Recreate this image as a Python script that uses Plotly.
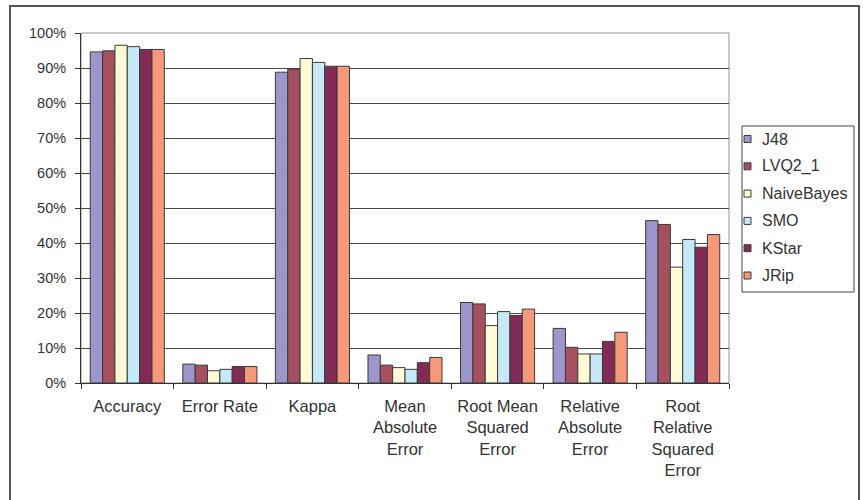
import plotly.graph_objects as go

# Evaluation metrics (percent) for each classifier
metrics = ["Accuracy", "Error Rate", "Kappa", "Mean<br>Absolute<br>Error",
           "Root Mean<br>Squared<br>Error", "Relative<br>Absolute<br>Error",
           "Root<br>Relative<br>Squared<br>Error"]

j48 = [94.6, 5.4, 88.8, 8.0, 23.0, 15.6, 46.4]
lvq2_1 = [94.9, 5.1, 89.7, 5.1, 22.6, 10.2, 45.3]
naive_bayes = [96.5, 3.5, 92.7, 4.4, 16.4, 8.3, 33.1]
smo = [96.1, 3.9, 91.6, 3.9, 20.4, 8.3, 41.0]
kstar = [95.3, 4.7, 90.5, 5.8, 19.3, 11.9, 38.8]
jrip = [95.3, 4.7, 90.5, 7.3, 21.1, 14.5, 42.4]

series = [
    ("J48", j48, "#9C96CA"),
    ("LVQ2_1", lvq2_1, "#A6505F"),
    ("NaiveBayes", naive_bayes, "#FFFAD6"),
    ("SMO", smo, "#C6E9F8"),
    ("KStar", kstar, "#832B57"),
    ("JRip", jrip, "#F5997A"),
]

W, H = 863, 500
L, R, T, B = 81, 134, 33, 117
pw, ph = W - L - R, H - T - B


def px_x(x):
    return (x - L) / pw


def px_y(y):
    return (H - B - y) / ph


fig = go.Figure()
for name, vals, color in series:
    fig.add_trace(go.Bar(
        name=name, x=metrics, y=vals, showlegend=False,
        marker=dict(color=color, line=dict(color="#3a3a3a", width=1)),
    ))

shapes = [
    # plot area frame
    dict(type="rect", xref="paper", yref="paper", x0=0, x1=1, y0=0, y1=1,
         line=dict(color="#9a9090", width=1), layer="below"),
    # outer chart frame
    dict(type="rect", xref="paper", yref="paper",
         x0=px_x(10), x1=px_x(859), y0=px_y(520), y1=px_y(6),
         line=dict(color="#555555", width=2), layer="below"),
    # legend box
    dict(type="rect", xref="paper", yref="paper",
         x0=px_x(742), x1=px_x(854), y0=px_y(292), y1=px_y(126),
         line=dict(color="#444444", width=1), fillcolor="white", layer="below"),
]
annotations = []

# legend entries: small swatch + label
for i, (name, vals, color) in enumerate(series):
    cy = 139 + i * 27.3
    shapes.append(dict(
        type="rect", xref="paper", yref="paper",
        x0=px_x(744), x1=px_x(751), y0=px_y(cy + 3.5), y1=px_y(cy - 3.5),
        line=dict(color="#3a3a3a", width=1), fillcolor=color, layer="above",
    ))
    annotations.append(dict(
        xref="paper", yref="paper", x=px_x(760), y=px_y(cy),
        xanchor="left", yanchor="middle", showarrow=False, text=name,
        font=dict(size=16, color="#333333"),
    ))

fig.update_layout(
    width=W, height=H,
    margin=dict(l=L, r=R, t=T, b=B, autoexpand=False),
    paper_bgcolor="white", plot_bgcolor="white",
    font=dict(family="Liberation Sans, Arial, sans-serif", color="#333333"),
    barmode="group", bargap=0.2, bargroupgap=0,
    showlegend=False,
    xaxis=dict(
        showline=True, linecolor="#333333", linewidth=1,
        ticks="outside", tickson="boundaries", ticklen=5, tickcolor="#333333",
        tickfont=dict(size=16.5, color="#333333"), showgrid=False,
        ticklabelstandoff=8,
    ),
    yaxis=dict(
        range=[0, 100], dtick=10, ticksuffix="%",
        showline=True, linecolor="#333333", linewidth=1,
        ticks="outside", ticklen=5, tickcolor="#333333",
        tickfont=dict(size=14.5, color="#333333"),
        showgrid=True, gridcolor="#4a4a4a", gridwidth=1,
        zeroline=False, ticklabelstandoff=6,
    ),
    shapes=shapes,
    annotations=annotations,
)

fig.write_html("out.html")
